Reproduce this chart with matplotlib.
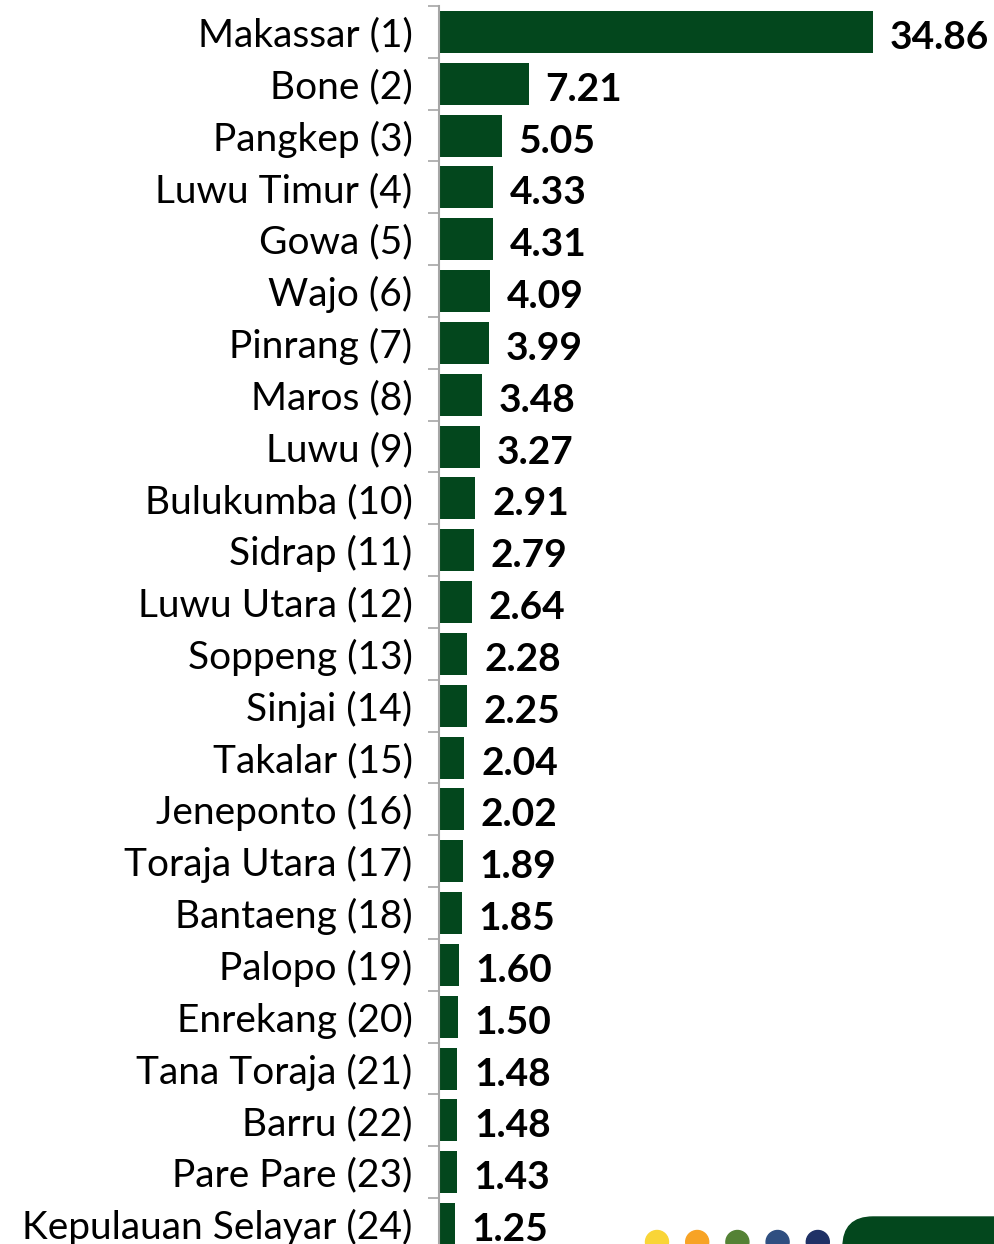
import matplotlib.pyplot as plt
from matplotlib.patches import Circle, FancyBboxPatch

# data
regions = ['Makassar', 'Bone', 'Pangkep', 'Luwu Timur', 'Gowa', 'Wajo', 'Pinrang',
           'Maros', 'Luwu', 'Bulukumba', 'Sidrap', 'Luwu Utara', 'Soppeng', 'Sinjai',
           'Takalar', 'Jeneponto', 'Toraja Utara', 'Bantaeng', 'Palopo', 'Enrekang',
           'Tana Toraja', 'Barru', 'Pare Pare', 'Kepulauan Selayar']
values = [34.86, 7.21, 5.05, 4.33, 4.31, 4.09, 3.99, 3.48, 3.27, 2.91, 2.79, 2.64,
          2.28, 2.25, 2.04, 2.02, 1.89, 1.85, 1.60, 1.50, 1.48, 1.48, 1.43, 1.25]
labels = [f'{r} ({i + 1})' for i, r in enumerate(regions)]

bar_color = '#03471D'
dot_colors = ['#F9D537', '#F7A325', '#548235', '#2F4F81', '#1F3166']

plt.rcParams['font.family'] = ['Lato', 'DejaVu Sans']

W, H = 995, 1244
fig = plt.figure(figsize=(W / 100, H / 100), dpi=100)

# main axes: y axis line at x=439px, rows 51.8px tall, starting 6px from top
ax_left = 439 / W
ax_w = (W - 439) / W
ax_top = 1 - 6 / H
ax_h = 24 * 51.83 / H
ax = fig.add_axes([ax_left, ax_top - ax_h, ax_w, ax_h])

pos = list(range(len(values)))
ax.barh(pos, values, height=0.81, color=bar_color)
ax.set_ylim(len(values) - 0.5, -0.5)
ax.set_xlim(0, (W - 439) / 12.45)

for p, v in zip(pos, values):
    ax.text(v + 1.35, p + 0.05, f'{v:.2f}', va='center_baseline', ha='left',
            fontsize=28, fontweight='bold', color='black')

ax.set_yticks(pos)
ax.set_yticklabels(labels, fontsize=28)
ax.tick_params(axis='y', which='major', length=0, pad=19)
ax.set_yticks([p - 0.5 for p in pos] + [len(pos) - 0.5], minor=True)
ax.tick_params(axis='y', which='minor', length=8, width=1.2, color='#A6A6A6')
ax.set_xticks([])
for s in ['top', 'right', 'bottom']:
    ax.spines[s].set_visible(False)
ax.spines['left'].set_color('#A6A6A6')
ax.spines['left'].set_linewidth(1.5)

# decoration in the bottom right corner
deco = fig.add_axes([0, 0, 1, 1], zorder=5)
deco.set_xlim(0, W)
deco.set_ylim(H, 0)
deco.axis('off')
for i, c in enumerate(dot_colors):
    deco.add_patch(Circle((657 + i * 40.2, 1242), 11.5, color=c))
deco.add_patch(FancyBboxPatch((843, 1217), 200, 60,
                              boxstyle='round,pad=0,rounding_size=30',
                              color=bar_color))

fig.savefig('out.png', dpi=100)
